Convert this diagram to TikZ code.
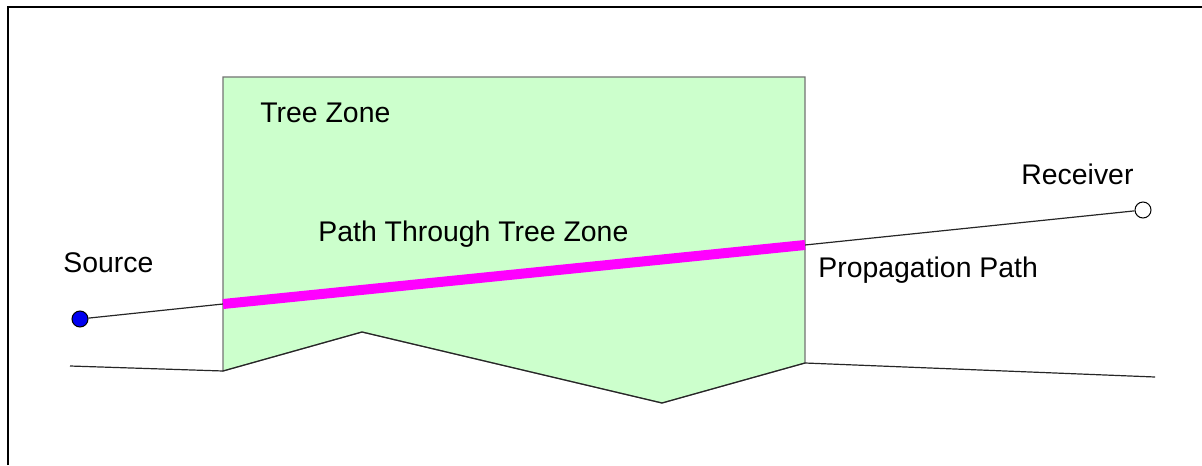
\documentclass[tikz,border=0pt]{standalone}
\usepackage{fontspec}
\setmainfont{Liberation Sans}
\usetikzlibrary{positioning}
\definecolor{zoneGreen}{HTML}{CCFFCC}
\definecolor{pathMagenta}{HTML}{FF00FF}
\definecolor{srcBlue}{HTML}{0000F0}

\begin{document}
\begin{tikzpicture}[x=0.5pt,y=-0.5pt,
    lbl/.style={anchor=west,inner sep=0pt,font=\fontsize{14.2}{17}\selectfont},
    endpt/.style={circle,draw=black,line width=0.5pt,minimum size=8pt,inner sep=0pt},
    thinline/.style={draw=black!85,line width=0.6pt}]
  \useasboundingbox (0,0) rectangle (1202,465);
  % frame
  \draw[line width=1.3pt] (8,465) -- (8,7) -- (1202,7);
  % tree zone
  \coordinate (tl) at (223,77);
  \coordinate (tr) at (805,77);
  \coordinate (br) at (805,363);
  \coordinate (bv) at (662,403);
  \coordinate (bp) at (362,332);
  \coordinate (bl) at (223,371);
  \filldraw[fill=zoneGreen,draw=black!55,line width=0.6pt] (tl) -- (tr) -- (br) -- (bv) -- (bp) -- (bl) -- cycle;
  \draw[black!85,line width=0.6pt] (br) -- (bv) -- (bp) -- (bl);
  % ground
  \coordinate (gl) at (70,366);
  \coordinate (gr) at (1155,377);
  \draw[thinline] (gl) -- (bl);
  \draw[thinline] (br) -- (gr);
  % source, receiver and path
  \node[endpt,fill=srcBlue] (src) at (80,319) {};
  \node[endpt,fill=white] (rcv) at (1143,210) {};
  \coordinate (pin) at (223,304);
  \coordinate (pout) at (805,245);
  \draw[thinline] (src) -- (pin);
  \draw[thinline] (pout) -- (rcv);
  \draw[pathMagenta,line width=5pt] (pin) -- (pout);
  % labels
  \node[lbl] (zonelbl) at (260,113) {Tree Zone};
  \node[lbl] (pathlbl) at (318,234) {Path Through Tree Zone};
  \node[lbl] (srclbl) at (63,263) {Source};
  \node[lbl] (rcvlbl) at (1021,174) {Receiver};
  \node[lbl] (proplbl) at (818,270) {Propagation Path};
\end{tikzpicture}
\end{document}
